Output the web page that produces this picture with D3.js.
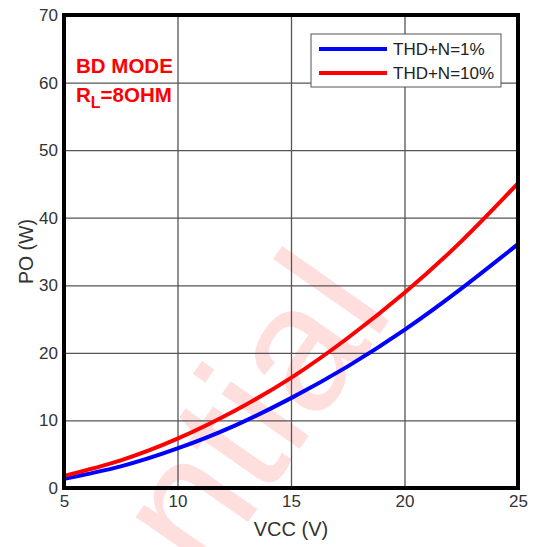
<!DOCTYPE html>
<html>
<head>
<meta charset="utf-8">
<script src="https://cdn.jsdelivr.net/npm/d3@7"></script>
<style>
  body { margin: 0; background: #fff; }
  svg { display: block; font-family: 'Liberation Sans', Arial, sans-serif; }
</style>
</head>
<body>
<div id="viz"></div>
<script>
const width = 535;
const height = 547;
const margin = {top: 15, right: 17, bottom: 59, left: 64};

// Data
const vcc = [5, 7.5, 10, 12.5, 15, 17.5, 20, 22.5, 25];
const thd1 = [1.35, 3.2, 5.85, 9.2, 13.3, 18.0, 23.4, 29.5, 36.1];
const thd10 = [1.8, 4.1, 7.3, 11.4, 16.3, 22.2, 28.9, 36.5, 45.1];
const xTicks = [5, 10, 15, 20, 25];
const yTicks = [0, 10, 20, 30, 40, 50, 60, 70];
const seriesNames = ['THD+N=1%', 'THD+N=10%'];
const seriesColors = ['#0000ff', '#ff0000'];

const series = [thd1, thd10].map((vals, i) => ({
  name: seriesNames[i],
  color: seriesColors[i],
  values: vals.map((v, j) => ({x: vcc[j], y: v}))
}));

const svg = d3.select('#viz')
  .append('svg')
    .attr('width', width)
    .attr('height', height);

const xScale = d3.scaleLinear()
  .domain([5, 25])
  .range([margin.left, width - margin.right]);
const yScale = d3.scaleLinear()
  .domain([0, 70])
  .range([height - margin.bottom, margin.top]);

// Watermark (behind everything)
svg.append('text')
  .attr('transform', 'translate(396,311) rotate(-55)')
  .attr('text-anchor', 'end')
  .attr('fill', '#ffdede')
  .style('font-size', '180px')
  .text('Confidential');

// Grid
svg.append('g')
  .attr('transform', `translate(0,${height - margin.bottom})`)
  .call(d3.axisBottom(xScale).tickValues(xTicks).tickSize(-(height - margin.top - margin.bottom)).tickFormat(''))
  .call(g => g.select('.domain').remove())
  .call(g => g.selectAll('line').attr('stroke', '#555').attr('stroke-width', 1.3));
svg.append('g')
  .attr('transform', `translate(${margin.left},0)`)
  .call(d3.axisLeft(yScale).tickValues(yTicks).tickSize(-(width - margin.left - margin.right)).tickFormat(''))
  .call(g => g.select('.domain').remove())
  .call(g => g.selectAll('line').attr('stroke', '#555').attr('stroke-width', 1.3));

// Tick labels
svg.append('g')
  .attr('transform', `translate(0,${height - margin.bottom})`)
  .call(d3.axisBottom(xScale).tickValues(xTicks).tickSize(0).tickPadding(7))
  .call(g => g.select('.domain').remove())
  .call(g => g.selectAll('text').attr('fill', '#333').style('font-size', '17px').style('font-family', 'Liberation Sans, Arial, sans-serif'));
svg.append('g')
  .attr('transform', `translate(${margin.left},0)`)
  .call(d3.axisLeft(yScale).tickValues(yTicks).tickSize(0).tickPadding(6))
  .call(g => g.select('.domain').remove())
  .call(g => g.selectAll('text').attr('fill', '#333').style('font-size', '17px').style('font-family', 'Liberation Sans, Arial, sans-serif'));

// Axis titles
svg.append('text')
  .attr('x', (margin.left + width - margin.right) / 2)
  .attr('y', 536)
  .attr('text-anchor', 'middle')
  .attr('fill', '#333')
  .style('font-size', '20px')
  .text('VCC (V)');
svg.append('text')
  .attr('transform', `translate(33,${(margin.top + height - margin.bottom) / 2}) rotate(-90)`)
  .attr('text-anchor', 'middle')
  .attr('fill', '#333')
  .style('font-size', '19.5px')
  .text('PO (W)');

// Curves
const line = d3.line()
  .x(d => xScale(d.x))
  .y(d => yScale(d.y))
  .curve(d3.curveNatural);

svg.append('g')
  .selectAll('path')
  .data(series)
  .join('path')
    .attr('d', d => line(d.values))
    .attr('fill', 'none')
    .attr('stroke', d => d.color)
    .attr('stroke-width', 4);

// Frame
svg.append('rect')
  .attr('x', margin.left)
  .attr('y', margin.top)
  .attr('width', width - margin.left - margin.right)
  .attr('height', height - margin.top - margin.bottom)
  .attr('fill', 'none')
  .attr('stroke', '#000')
  .attr('stroke-width', 4);

// Legend
const legend = svg.append('g').attr('transform', 'translate(311,34)');
legend.append('rect')
  .attr('width', 190)
  .attr('height', 53)
  .attr('fill', '#fff')
  .attr('stroke', '#555')
  .attr('stroke-width', 1);
const items = legend.selectAll('g.item')
  .data(series)
  .join('g')
    .attr('class', 'item')
    .attr('transform', (d, i) => `translate(0,${15 + i * 24})`);
items.append('line')
  .attr('x1', 8).attr('x2', 76)
  .attr('stroke', d => d.color)
  .attr('stroke-width', 4);
items.append('text')
  .attr('x', 82)
  .attr('y', 6)
  .attr('fill', '#222')
  .style('font-size', '17px')
  .text(d => d.name);

// Annotation
const note = svg.append('g').attr('fill', '#ff0000').style('font-weight', 'bold').style('font-size', '20.5px');
note.append('text').attr('x', 76).attr('y', 73).text('BD MODE');
const rl = note.append('text').attr('x', 76).attr('y', 102);
rl.append('tspan').text('R');
rl.append('tspan').attr('dy', 6).style('font-size', '16px').text('L');
rl.append('tspan').attr('dy', -6).text('=8OHM');
</script>
</body>
</html>
